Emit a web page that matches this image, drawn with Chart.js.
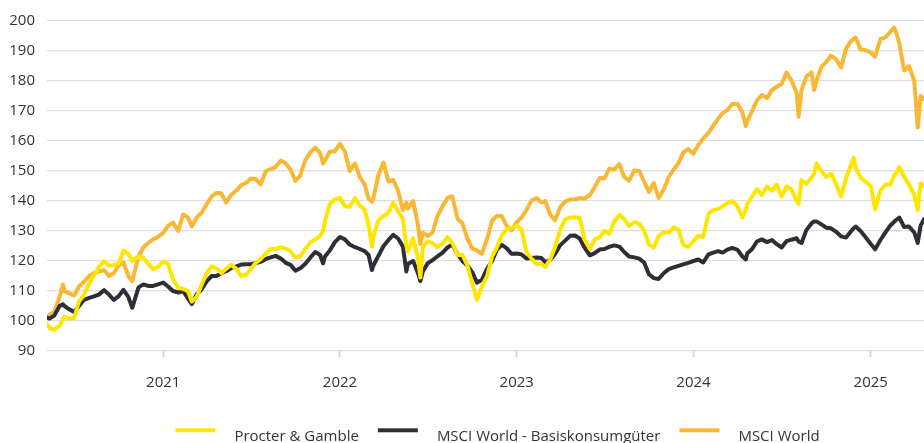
<!DOCTYPE html>
<html>
<head>
<meta charset="utf-8">
<script src="https://cdn.jsdelivr.net/npm/chart.js@4.4.1/dist/chart.umd.min.js"></script>
<style>
  html, body { margin: 0; padding: 0; background: #ffffff; }
  #wrap { width: 924px; height: 443px; position: relative; }
</style>
</head>
<body>
<div id="wrap"><canvas id="c" width="924" height="443"></canvas></div>
<script>
const seriesNames = ['Procter & Gamble', 'MSCI World - Basiskonsumgüter', 'MSCI World'];
const seriesColors = ['#FFE600', '#2E2E38', '#F9B733'];
const yearTicks = ['2021', '2022', '2023', '2024', '2025'];
const yTickValues = [90, 100, 110, 120, 130, 140, 150, 160, 170, 180, 190, 200];

const dates = [
'2020-05-06','2020-05-11','2020-05-21','2020-06-01','2020-06-08','2020-06-11','2020-06-21','2020-07-01','2020-07-11','2020-07-21',
'2020-08-01','2020-08-11','2020-08-21','2020-09-01','2020-09-11','2020-09-21','2020-10-01','2020-10-11','2020-10-21','2020-10-29',
'2020-11-11','2020-11-21','2020-12-01','2020-12-11','2020-12-21','2021-01-01','2021-01-11','2021-01-21','2021-02-01','2021-02-11',
'2021-02-21','2021-03-01','2021-03-11','2021-03-21','2021-04-01','2021-04-11','2021-04-21','2021-05-01','2021-05-11','2021-05-21',
'2021-06-01','2021-06-11','2021-06-21','2021-07-01','2021-07-11','2021-07-21','2021-08-01','2021-08-11','2021-08-21','2021-09-01',
'2021-09-11','2021-09-21','2021-10-01','2021-10-11','2021-10-21','2021-11-01','2021-11-11','2021-11-21','2021-11-27','2021-12-01',
'2021-12-11','2021-12-21','2022-01-01','2022-01-11','2022-01-21','2022-02-01','2022-02-11','2022-02-21','2022-03-01','2022-03-08',
'2022-03-11','2022-03-21','2022-04-01','2022-04-11','2022-04-21','2022-05-01','2022-05-11','2022-05-18','2022-05-21','2022-06-01',
'2022-06-11','2022-06-16','2022-06-21','2022-07-01','2022-07-11','2022-07-21','2022-08-01','2022-08-11','2022-08-21','2022-09-01',
'2022-09-11','2022-09-21','2022-10-01','2022-10-11','2022-10-21','2022-11-01','2022-11-11','2022-11-21','2022-12-01','2022-12-11',
'2022-12-21','2023-01-01','2023-01-11','2023-01-21','2023-02-01','2023-02-11','2023-02-21','2023-03-01','2023-03-11','2023-03-21',
'2023-04-01','2023-04-11','2023-04-21','2023-05-01','2023-05-11','2023-05-21','2023-06-01','2023-06-11','2023-06-21','2023-07-01',
'2023-07-11','2023-07-21','2023-08-01','2023-08-11','2023-08-21','2023-09-01','2023-09-11','2023-09-21','2023-10-01','2023-10-11',
'2023-10-21','2023-11-01','2023-11-11','2023-11-21','2023-12-01','2023-12-11','2023-12-21','2024-01-01','2024-01-11','2024-01-21',
'2024-02-01','2024-02-11','2024-02-21','2024-03-01','2024-03-11','2024-03-21','2024-04-01','2024-04-11','2024-04-18','2024-04-21',
'2024-05-01','2024-05-11','2024-05-21','2024-06-01','2024-06-11','2024-06-21','2024-07-01','2024-07-11','2024-07-21','2024-08-01',
'2024-08-05','2024-08-11','2024-08-21','2024-09-01','2024-09-06','2024-09-11','2024-09-21','2024-10-01','2024-10-11','2024-10-21',
'2024-11-01','2024-11-11','2024-11-21','2024-11-27','2024-12-01','2024-12-11','2024-12-21','2025-01-01','2025-01-10','2025-01-21',
'2025-02-01','2025-02-11','2025-02-18','2025-02-21','2025-03-01','2025-03-11','2025-03-21','2025-04-01','2025-04-08','2025-04-14',
'2025-04-21'
];

const procterGamble = [
99.0,97.8,97.0,98.5,100.6,101.4,100.8,101.0,106.5,108.5,
112.5,115.2,118.0,120.0,118.4,118.6,119.3,123.5,122.4,120.0,
121.5,121.0,119.0,117.3,118.0,119.8,119.0,114.0,111.0,110.7,
110.0,106.5,108.0,112.0,116.0,118.2,117.5,116.0,117.4,118.7,
117.4,115.0,115.4,117.3,119.4,120.6,122.5,124.0,124.0,124.5,
124.2,123.3,121.2,121.5,124.0,126.2,127.2,128.4,130.0,133.3,
139.0,140.5,141.0,138.3,138.0,141.0,138.4,137.2,132.0,124.8,
128.0,133.5,135.0,136.0,139.5,136.5,134.0,125.0,123.2,127.6,
121.0,114.5,124.5,126.6,126.0,124.6,125.8,128.0,126.0,122.0,
122.0,118.5,112.5,107.0,111.5,115.0,121.5,124.5,128.5,130.5,
131.0,131.8,130.5,123.0,120.7,119.0,119.0,118.0,120.5,124.6,
130.5,133.8,134.5,134.6,134.4,127.2,124.0,127.2,127.8,130.0,
129.0,133.0,135.4,134.0,131.6,133.0,132.4,130.2,125.5,124.5,
128.3,129.7,129.5,131.2,130.5,125.4,124.7,126.6,128.5,128.0,
135.8,137.0,137.3,138.2,139.3,140.0,138.2,134.5,137.0,139.0,
141.5,144.0,142.0,144.8,143.4,145.5,141.5,144.8,144.0,140.0,
139.0,147.0,145.7,147.8,149.0,152.6,150.0,148.0,149.2,145.8,
141.5,147.5,152.0,154.4,151.0,147.8,146.5,145.0,137.2,143.5,
145.5,145.5,148.5,149.0,151.3,148.0,145.5,142.0,137.0,145.8,
145.0
];

const msciWorldStaples = [
101.1,100.8,101.8,105.0,105.6,105.0,103.9,103.0,105.0,107.0,
107.7,108.2,108.8,110.3,108.8,107.0,108.3,110.4,108.0,104.4,
111.2,112.2,111.7,111.7,112.2,112.8,111.5,110.0,109.5,110.0,
107.5,105.6,108.9,110.5,113.3,115.0,115.0,116.0,116.6,117.6,
118.2,118.8,118.9,118.9,119.3,119.7,120.7,121.2,121.7,120.8,
119.4,118.7,116.8,117.6,119.0,121.2,123.0,122.0,119.2,121.5,
123.5,126.2,128.0,127.2,125.5,124.6,124.0,123.3,122.0,117.0,
118.5,121.6,125.0,127.0,128.7,127.5,124.8,116.5,119.0,120.0,
116.0,113.3,116.5,119.2,120.3,121.5,122.8,124.5,125.5,122.2,
120.0,118.5,116.3,112.8,113.7,117.5,120.0,123.8,125.4,124.3,
122.4,122.5,122.2,120.8,121.0,121.2,121.0,119.6,120.3,122.3,
125.3,126.8,128.4,128.5,127.5,124.5,121.9,122.6,123.8,124.0,
124.7,125.2,124.8,123.0,121.5,121.2,120.8,119.5,115.6,114.3,
114.0,116.0,117.3,117.9,118.4,118.9,119.4,120.0,120.5,119.5,
122.2,122.8,123.3,122.8,123.8,124.4,123.7,121.5,120.5,122.5,
124.0,126.5,127.2,126.3,127.0,125.6,124.5,126.6,127.1,127.6,
126.5,126.0,130.3,132.6,133.2,133.2,132.2,131.1,130.9,129.8,
128.2,127.8,129.8,131.0,131.5,130.0,128.0,125.7,123.9,127.0,
129.7,131.9,133.0,133.5,134.5,131.3,131.5,129.5,126.0,131.8,
133.9
];

const msciWorld = [
101.5,102.0,103.0,108.0,112.2,110.0,109.2,108.5,111.5,113.0,
115.0,116.0,116.5,117.0,115.0,116.0,118.5,119.5,115.0,113.3,
121.5,124.5,126.0,127.2,128.0,129.4,131.7,132.8,130.0,135.5,
134.5,131.5,134.5,136.0,139.0,141.5,142.7,142.6,139.5,142.0,
143.5,145.3,146.0,147.5,147.3,145.5,150.0,150.6,151.3,153.5,
152.5,150.5,146.7,148.5,153.5,156.3,157.8,156.0,152.5,153.5,
156.5,156.5,159.1,156.5,150.0,152.5,148.0,145.5,140.8,139.7,
141.0,148.5,152.8,146.5,147.0,143.4,137.0,139.5,137.5,140.0,
132.0,125.6,129.5,128.3,129.5,134.8,138.3,141.0,141.5,134.0,
132.5,127.5,124.2,123.5,122.4,127.5,133.5,135.0,135.0,131.8,
130.2,133.0,134.5,137.0,140.2,141.0,139.5,140.0,135.5,133.5,
138.0,139.8,140.5,140.6,141.0,140.8,142.0,144.6,147.7,147.5,
150.8,150.5,152.3,148.0,146.8,150.2,150.0,146.5,143.0,146.0,
141.0,144.0,148.0,150.5,152.6,156.2,157.3,155.8,158.7,160.8,
162.7,165.2,167.4,169.3,170.3,172.3,172.3,169.5,165.0,166.5,
170.0,173.5,175.3,174.3,177.0,178.1,179.1,182.8,180.3,176.0,
168.1,177.0,181.5,182.9,177.0,180.0,184.7,186.3,188.5,187.3,
184.5,190.8,193.3,194.1,194.5,190.5,190.3,189.5,188.1,194.0,
194.6,196.5,197.8,197.0,192.5,183.5,185.0,180.0,164.5,175.0,
174.0
];

const seriesValues = [procterGamble, msciWorldStaples, msciWorld];
const FONT = '"Open Sans", "Noto Sans", sans-serif';
const TEXT_COLOR = '#333333';

const datasets = seriesNames.map((name, i) => ({
  label: name,
  data: dates.map((d, k) => ({ x: Date.parse(d), y: seriesValues[i][k] })),
  borderColor: seriesColors[i],
  backgroundColor: seriesColors[i],
  borderWidth: 4,
  pointRadius: 0,
  pointHoverRadius: 0,
  tension: 0,
  borderJoinStyle: 'round',
  borderCapStyle: 'round',
  fill: false
}));

const bottomLegend = {
  id: 'bottomLegend',
  afterDraw(chart) {
    const ctx = chart.ctx;
    ctx.save();
    ctx.font = '15px ' + FONT;
    const boxW = 40, boxH = 4, gap = 19;
    const widths = seriesNames.map(n => ctx.measureText(n).width);
    let total = 0;
    widths.forEach((w, i) => { total += boxW + gap + w + (i < widths.length - 1 ? gap : 0); });
    let x = 497.5 - total / 2;
    const boxY = 428.3;
    const textY = 441;
    seriesNames.forEach((n, i) => {
      ctx.fillStyle = seriesColors[i];
      ctx.fillRect(x, boxY, boxW, boxH);
      x += boxW + gap;
      ctx.fillStyle = TEXT_COLOR;
      ctx.textBaseline = 'alphabetic';
      ctx.textAlign = 'left';
      ctx.fillText(n, x, textY);
      x += widths[i] + gap;
    });
    ctx.restore();
  }
};

new Chart(document.getElementById('c'), {
  type: 'line',
  data: { datasets },
  plugins: [bottomLegend],
  options: {
    responsive: false,
    animation: false,
    events: [],
    layout: { padding: { top: 19, right: 0, bottom: 52, left: 0 } },
    plugins: { legend: { display: false }, tooltip: { enabled: false } },
    scales: {
      x: {
        type: 'linear',
        min: Date.parse(dates[0]),
        max: Date.parse(dates[dates.length - 1]),
        afterBuildTicks(scale) {
          scale.ticks = yearTicks.map(y => ({ value: Date.parse(y + '-01-01') }));
        },
        afterFit(scale) { scale.height = 40; },
        ticks: {
          autoSkip: false,
          maxRotation: 0,
          padding: 17,
          color: TEXT_COLOR,
          font: { family: FONT, size: 15 },
          callback(value) {
            const yr = new Date(value).getUTCFullYear();
            return yearTicks.includes(String(yr)) ? String(yr) : '';
          }
        },
        grid: { drawOnChartArea: false, drawTicks: true, tickLength: 6, tickWidth: 2, color: '#d9d9d9' },
        border: { display: false }
      },
      y: {
        min: 90,
        max: 200,
        afterBuildTicks(scale) {
          scale.ticks = yTickValues.map(v => ({ value: v }));
        },
        afterFit(scale) { scale.width = 47; },
        ticks: {
          padding: 12,
          color: TEXT_COLOR,
          font: { family: FONT, size: 15 }
        },
        grid: { color: '#dedede', lineWidth: 1.3, drawTicks: false },
        border: { display: false }
      }
    }
  }
});
</script>
</body>
</html>
